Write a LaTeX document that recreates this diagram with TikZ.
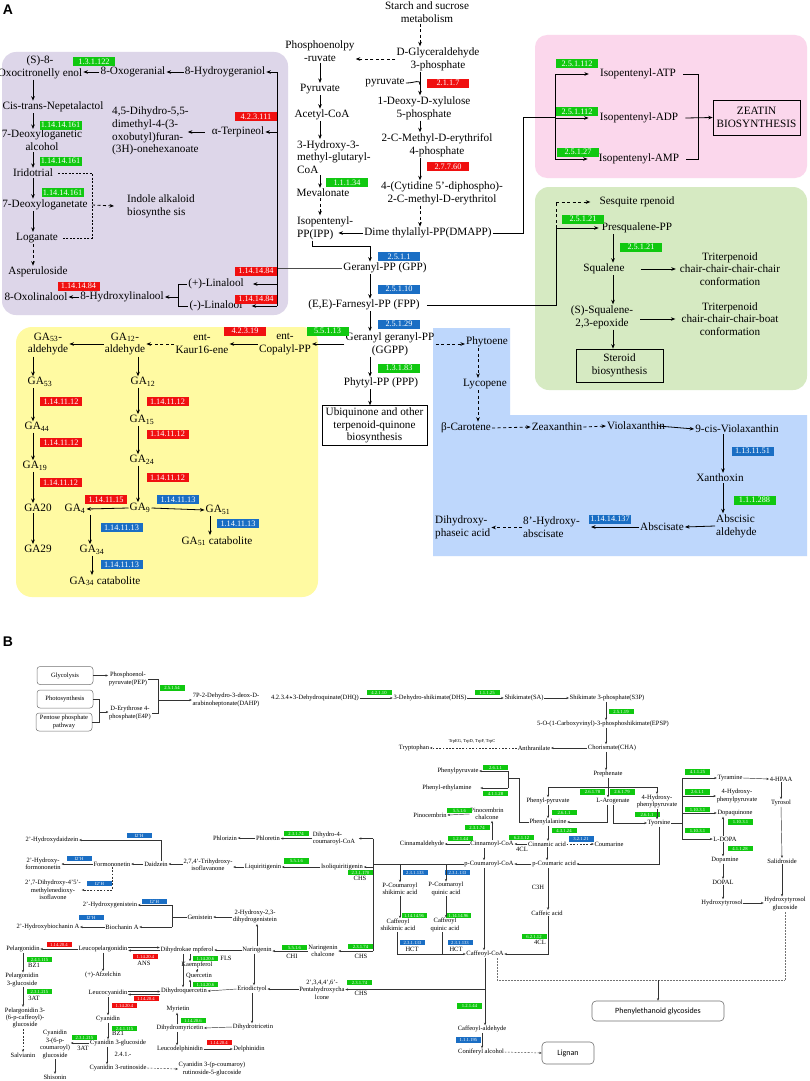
\documentclass[tikz,border=0pt]{standalone}
\usepackage{fontspec}
\setmainfont{Liberation Serif}
\newfontfamily\labfont{Liberation Sans}
\newfontfamily\boxfont{Carlito}
\usetikzlibrary{arrows.meta,calc}
\definecolor{ecred}{RGB}{240,16,16}
\definecolor{ecgreen}{RGB}{16,200,16}
\definecolor{ecblue}{RGB}{26,110,196}
\definecolor{bgpurple}{RGB}{221,214,233}
\definecolor{bgpink}{RGB}{251,215,236}
\definecolor{bggreen}{RGB}{214,234,194}
\definecolor{bgyellow}{RGB}{255,250,162}
\definecolor{bgblue}{RGB}{190,215,252}

\begin{document}
\begin{tikzpicture}[x=1pt,y=-1pt,
  mtxt/.style={font=\fontsize{11.2}{12.8}\selectfont, align=center, inner sep=1pt},
  mtxtl/.style={mtxt, align=left},
  btxt/.style={font=\fontsize{6.5}{7.4}\selectfont, align=center, inner sep=0.6pt},
  btxtl/.style={btxt, align=left},
  ecA/.style={font=\fontsize{8.3}{8.5}\selectfont, text=white, minimum width=42pt, minimum height=9pt, inner sep=0pt},
  ecR/.style={ecA, fill=ecred},
  ecG/.style={ecA, fill=ecgreen},
  ecB/.style={ecA, fill=ecblue},
  esA/.style={font=\fontsize{4.7}{5}\selectfont, text=white, minimum width=25pt, minimum height=5.5pt, inner sep=0pt},
  esR/.style={esA, fill=ecred},
  esG/.style={esA, fill=ecgreen},
  esB/.style={esA, fill=ecblue},
  arr/.style={-{Stealth[length=4.5pt,width=3.6pt]}, line width=0.8pt},
  darr/.style={arr, dash pattern=on 3pt off 2.5pt},
  mline/.style={line width=0.8pt},
  barr/.style={-{Stealth[length=2.6pt,width=2.2pt]}, line width=0.45pt, black!80},
  dbarr/.style={barr, dash pattern=on 1.8pt off 1.5pt},
  bline/.style={line width=0.45pt, black!80},
  bbox/.style={btxt, draw=black!55, line width=0.5pt, rounded corners=3pt, fill=white, minimum width=56pt, minimum height=18pt},
  sbox/.style={font=\fontsize{8}{9}\boxfont, draw=black!55, line width=0.6pt, rounded corners=4pt, fill=white}]
\fill[white] (0,0) rectangle (809,1081);
\useasboundingbox (0,0) rectangle (809,1081);

% ---------------- A ----------------
\node[font=\fontsize{14}{14}\labfont\bfseries] (lblA) at (8,10) {A};
\fill[bgpurple, rounded corners=14pt] (2,52) rectangle (288,315);
\fill[bgpink, rounded corners=12pt] (535,35) rectangle (807,178);
\fill[bggreen, rounded corners=14pt] (535,187) rectangle (807,390);
\fill[bgyellow, rounded corners=16pt] (16,327) rectangle (318,597);
\fill[bgblue] (433,328) -- (510,328) -- (510,415) -- (807,415) -- (807,556) -- (433,556) -- cycle;

\coordinate (mx) at (420,0);
\coordinate (vx) at (320,0);
\coordinate (cx) at (370,0);

% MVA / MEP
\node[mtxt] (starch) at (427,12) {Starch and sucrose\\metabolism};
\node[mtxt] (gap) at (438,59) {D-Glyceraldehyde\\3-phosphate};
\node[mtxt] (pep) at (320,51) {Phosphoenolpy\\-ruvate};
\node[mtxt] (pyr) at (320,89) {Pyruvate};
\node[mtxt] (acoa) at (322,115) {Acetyl-CoA};
\node[mtxtl, anchor=west] (hmg) at (296,157) {3-Hydroxy-3-\\methyl-glutaryl-\\CoA};
\node[mtxt] (mva) at (323,193) {Mevalonate};
\node[mtxtl, anchor=west] (ipp) at (296,228) {Isopentenyl-\\PP(IPP)};
\node[mtxt] (pyr2) at (385,83) {pyruvate};
\node[mtxt] (dxp) at (424,108) {1-Deoxy-D-xylulose\\5-phosphate};
\node[mtxt] (mep) at (437,145) {2-C-Methyl-D-erythrifol\\4-phosphate};
\node[mtxt] (cdp) at (442,193) {4-(Cytidine 5’-diphospho)-\\2-C-methyl-D-erythritol};
\node[mtxt] (dmapp) at (428,233) {Dime thylallyl-PP(DMAPP)};
\node[mtxt] (gpp) at (385,268) {Geranyl-PP (GPP)};
\node[mtxt] (fpp) at (364,305) {(E,E)-Farnesyl-PP (FPP)};
\node[mtxt] (ggpp) at (390,344) {Geranyl geranyl-PP\\(GGPP)};
\node[mtxt] (phytyl) at (381,383) {Phytyl-PP (PPP)};
\node[mtxt, draw, line width=0.6pt, minimum width=105pt, minimum height=39pt, inner sep=2pt] (ubi) at (374.5,425.5) {Ubiquinone and other\\terpenoid-quinone\\biosynthesis};

\node[ecR] (e2217) at (448,83) {2.1.1.7};
\node[ecR] (e27760) at (448,166.5) {2.7.7.60};
\node[ecG] (e11134) at (347,182.5) {1.1.1.34};
\node[ecB] (e2511) at (399,256.5) {2.5.1.1};
\node[ecB] (e25110) at (399,289) {2.5.1.10};
\node[ecB] (e25129) at (399,324) {2.5.1.29};
\node[ecG] (e13183) at (399,368) {1.3.1.83};

\draw[darr] (starch.south -| mx) -- (gap.north -| mx);
\draw[darr] (gap.west) -- (gap.west -| pep.east);
\draw[arr] (pep.south -| vx) -- (pyr.north -| vx);
\draw[arr] (pyr.south -| vx) -- (acoa.north -| vx);
\draw[arr] (acoa.south -| vx) -- (hmg.north -| vx);
\draw[arr] (hmg.south -| vx) -- (mva.north -| vx);
\draw[darr] (mva.south -| vx) -- (ipp.north -| vx);
\draw[arr] (gap.south -| mx) -- (dxp.north -| mx);
\draw[mline] (pyr2.east) .. controls +(10,0) and +(0,-6) .. ($(gap.south -| mx)!0.55!(dxp.north -| mx)$);
\draw[arr] (dxp.south -| mx) -- (mep.north -| mx);
\draw[arr] (mep.south -| mx) -- (cdp.north -| mx);
\draw[darr] (cdp.south -| mx) -- (dmapp.north -| mx);
\draw[arr] (dmapp.west) -- ([xshift=-16pt]ipp.east |- dmapp.west);
\draw[arr] ([xshift=-13pt]ipp.south) -- ++(0,6) -| (gpp.north -| cx);
\draw[arr] (gpp.south -| cx) -- (fpp.north -| cx);
\draw[arr] (fpp.south -| cx) -- (ggpp.north -| cx);
\draw[arr] (ggpp.south -| cx) -- (phytyl.north -| cx);
\draw[arr] (phytyl.south -| cx) -- (ubi.north -| cx);

% zeatin
\node[mtxt] (iatp) at (638,74) {Isopentenyl-ATP};
\node[mtxt] (iadp) at (639,118) {Isopentenyl-ADP};
\node[mtxt] (iamp) at (639,159) {Isopentenyl-AMP};
\node[mtxt, draw, line width=0.6pt, minimum width=87pt, minimum height=35pt] (zeat) at (756.5,117.5) {ZEATIN\\BIOSYNTHESIS};
\node[ecG] (e251112a) at (577,64) {2.5.1.112};
\node[ecG] (e251112b) at (577,111.5) {2.5.1.112};
\node[ecG] (e25127) at (578,152) {2.5.1.27};
\coordinate (dmj) at (523,117);
\coordinate (zx) at (555,0);
\coordinate (zr) at (698,0);
\draw[mline] (dmapp.east) -| (dmj) -- (dmj -| zx);
\draw[mline] (zx |- iatp.west) -- (zx |- iamp.west);
\draw[arr] (zx |- iatp.west) -- ([xshift=-10pt]iatp.west);
\draw[arr] (zx |- iadp.west) -- ([xshift=-10pt]iadp.west);
\draw[arr] (zx |- iamp.west) -- ([xshift=-10pt]iamp.west);
\draw[mline] ([xshift=6pt]iatp.east) -- (iatp.east -| zr) -- (iamp.east -| zr) -- ([xshift=6pt]iamp.east);
\draw[arr] ([xshift=6pt]iadp.east) -- (zeat.west);

% triterpenoid
\node[mtxt] (sesq) at (637,202) {Sesquite rpenoid};
\node[mtxt] (presq) at (637,228) {Presqualene-PP};
\node[mtxt] (squal) at (604,269) {Squalene};
\node[mtxt] (tri1) at (730,269) {Triterpenoid\\chair-chair-chair-chair\\conformation};
\node[mtxt] (epox) at (602,317) {(S)-Squalene-\\2,3-epoxide};
\node[mtxt] (tri2) at (730,319) {Triterpenoid\\chair-chair-chair-boat\\conformation};
\node[mtxt, draw, line width=0.6pt, minimum width=87pt, minimum height=33pt] (ster) at (619.5,365.5) {Steroid\\biosynthesis};
\node[ecG] (e25121a) at (583,219) {2.5.1.21};
\node[ecG] (e25121b) at (641,247) {2.5.1.21};
\coordinate (fj) at (556,0);
\coordinate (sx) at (613,0);
\draw[mline] ([xshift=6pt]fpp.east) -- (fpp.east -| fj) -- (presq.west -| fj);
\draw[arr] (presq.west -| fj) -- ([xshift=-2pt]presq.west);
\draw[dash pattern=on 3pt off 2.5pt, mline] (presq.west -| fj) -- (sesq.west -| fj);
\draw[darr] (sesq.west -| fj) -- ([xshift=-8pt]sesq.west);
\draw[arr] (presq.south -| sx) -- (squal.north -| sx);
\draw[arr] ([xshift=15pt]squal.east) -- ([xshift=-3pt]tri1.west);
\draw[arr] (squal.south -| sx) -- (epox.north -| sx);
\draw[arr] ([xshift=6pt]epox.east |- tri2.west) -- ([xshift=-5pt]tri2.west);
\draw[arr] (epox.south -| sx) -- (ster.north -| sx);

% monoterpenoid / iridoid
\node[mtxt] (oxo) at (40,67) {(S)-8-\\Oxocitronelly enol};
\node[mtxt] (oxog) at (133,72) {8-Oxogeranial};
\node[mtxt] (hger) at (225,72) {8-Hydroygeraniol};
\node[mtxt] (nep) at (53,107) {Cis-trans-Nepetalactol};
\node[mtxt] (dla) at (42,140.5) {7-Deoxyloganetic\\alcohol};
\node[mtxt] (irid) at (33,173) {Iridotrial};
\node[mtxt] (dlt) at (45,205) {7-Deoxyloganetate};
\node[mtxtl, anchor=west] (indole) at (126,206) {Indole alkaloid\\biosynthe sis};
\node[mtxt] (logan) at (37,238) {Loganate};
\node[mtxt] (asper) at (38,272) {Asperuloside};
\node[mtxtl, anchor=west] (dhf) at (111,131) {4,5-Dihydro-5,5-\\dimethyl-4-(3-\\oxobutyl)furan-\\(3H)-onehexanoate};
\node[mtxt] (terp) at (238,132) {α-Terpineol};
\node[mtxt] (oxol) at (36,297) {8-Oxolinalool};
\node[mtxt] (hlin) at (122,297) {8-Hydroxylinalool};
\node[mtxt] (plin) at (216,284) {(+)-Linalool};
\node[mtxt] (mlin) at (216,306) {(-)-Linalool};
\node[ecG] (e131122) at (94,61.5) {1.3.1.122};
\node[ecR] (e423111) at (256,116.5) {4.2.3.111};
\node[ecG] (e1141416a) at (60.5,125) {1.14.14.161};
\node[ecG] (e1141416b) at (60.5,161) {1.14.14.161};
\node[ecG] (e1141416c) at (62.5,192.5) {1.14.14.161};
\node[ecR] (e1141484a) at (256,271) {1.14.14.84};
\node[ecR] (e1141484b) at (256,299) {1.14.14.84};
\node[ecR] (e1141484c) at (78.5,286) {1.14.14.84};
\coordinate (gl) at (277,0);
\coordinate (px) at (33,0);
\coordinate (dj) at (92,0);
\coordinate (lb) at (178,0);
\draw[line width=0.6pt, black!70] (gpp.west) -- (gpp.west -| gl);
\draw[mline] (gl |- hger.east) -- (gl |- mlin.east);
\draw[arr] (gl |- hger.east) -- (hger.east);
\draw[arr] (gl |- terp.east) -- (terp.east);
\draw[arr] (gl |- plin.east) -- ([xshift=8pt]plin.east);
\draw[arr] (gl |- mlin.east) -- ([xshift=8pt]mlin.east);
\draw[arr] (hger.west) -- (oxog.east);
\draw[arr] (oxog.west) -- (oxog.west -| oxo.east);
\draw[arr] (oxo.south -| px) -- (nep.north -| px);
\draw[arr] (nep.south -| px) -- (dla.north -| px);
\draw[arr] (dla.south -| px) -- (irid.north -| px);
\draw[arr] (irid.south -| px) -- (dlt.north -| px);
\draw[arr] (dlt.south -| px) -- (logan.north -| px);
\draw[darr] (logan.south -| px) -- (asper.north -| px);
\draw[line width=0.5pt, dash pattern=on 2pt off 1.5pt] ([xshift=4pt]irid.east) -- (irid.east -| dj) -- (logan.east -| dj) -- ([xshift=4pt]logan.east);
\draw[darr] (dlt.east -| dj) -- ([xshift=-12pt]indole.west);
\draw[arr] ([xshift=-6pt]terp.west) -- ([xshift=-12pt]dhf.east |- terp.west);
\draw[mline] (plin.west) -- (plin.west -| lb) -- (mlin.west -| lb) -- (mlin.west);
\draw[arr] (lb |- hlin.east) -- (hlin.east);
\draw[arr] (hlin.west) -- (oxol.east);

% gibberellin
\node[mtxt] (ga53a) at (48,344) {GA\textsubscript{53}-\\aldehyde};
\node[mtxt] (ga12a) at (125,344) {GA\textsubscript{12}-\\aldehyde};
\node[mtxt] (kaur) at (202,344) {ent-\\Kaur16-ene};
\node[mtxt] (copal) at (285,344) {ent-\\Copalyl-PP};
\node[mtxt] (ga53) at (40,382) {GA\textsubscript{53}};
\node[mtxt] (ga44) at (37,427) {GA\textsubscript{44}};
\node[mtxt] (ga19) at (35,466) {GA\textsubscript{19}};
\node[mtxt] (ga20) at (38,508) {GA20};
\node[mtxt] (ga29) at (38,549) {GA29};
\node[mtxt] (ga12) at (143,382) {GA\textsubscript{12}};
\node[mtxt] (ga15) at (142,420) {GA\textsubscript{15}};
\node[mtxt] (ga24) at (142,460) {GA\textsubscript{24}};
\node[mtxt] (ga9) at (140,508) {GA\textsubscript{9}};
\node[mtxt] (ga4) at (75,509) {GA\textsubscript{4}};
\node[mtxt] (ga51) at (218,510) {GA\textsubscript{51}};
\node[mtxt] (ga51c) at (217,541) {GA\textsubscript{51} catabolite};
\node[mtxt] (ga34) at (92,550) {GA\textsubscript{34}};
\node[mtxt] (ga34c) at (105,581) {GA\textsubscript{34} catabolite};
\node[ecR] (e42319) at (245,331) {4.2.3.19};
\node[ecG] (e55113) at (327.5,331) {5.5.1.13};
\node[ecR] (e1141112a) at (61,401.5) {1.14.11.12};
\node[ecR] (e1141112b) at (61,442.5) {1.14.11.12};
\node[ecR] (e1141112c) at (60.5,482.5) {1.14.11.12};
\node[ecR] (e1141112d) at (167.5,401.5) {1.14.11.12};
\node[ecR] (e1141112e) at (167.5,434) {1.14.11.12};
\node[ecR] (e1141112f) at (167.5,477.5) {1.14.11.12};
\node[ecR] (e1141115) at (106,499.5) {1.14.11.15};
\node[ecB] (e1141113a) at (178,499.5) {1.14.11.13};
\node[ecB] (e1141113b) at (238,523.5) {1.14.11.13};
\node[ecB] (e1141113c) at (121.5,527.5) {1.14.11.13};
\node[ecB] (e1141113d) at (121.5,564.5) {1.14.11.13};
\coordinate (gx1) at (33,0);
\coordinate (gx2) at (138,0);
\draw[arr] (ggpp.west) -- (ggpp.west -| copal.east);
\draw[arr] (copal.west) -- (kaur.east);
\draw[darr] (kaur.west) -- (ga12a.east);
\draw[arr] (ga12a.west) -- (ga53a.east);
\draw[arr] (ga53a.south -| gx1) -- (ga53.north -| gx1);
\draw[arr] (ga53.south -| gx1) -- (ga44.north -| gx1);
\draw[arr] (ga44.south -| gx1) -- (ga19.north -| gx1);
\draw[arr] (ga19.south -| gx1) -- (ga20.north -| gx1);
\draw[arr] (ga20.south -| gx1) -- (ga29.north -| gx1);
\draw[arr] (ga12a.south -| gx2) -- (ga12.north -| gx2);
\draw[arr] (ga12.south -| gx2) -- (ga15.north -| gx2);
\draw[arr] (ga15.south -| gx2) -- (ga24.north -| gx2);
\draw[arr] (ga24.south -| gx2) -- (ga9.north -| gx2);
\draw[arr] (ga9.west) -- (ga4.east);
\draw[arr] (ga9.east) -- (ga51.west);
\draw[arr] ([xshift=-8pt]ga51.south) -- ([xshift=-8pt]ga51.south |- ga51c.north);
\draw[arr] ([xshift=15pt]ga4.south) -- ([xshift=15pt]ga4.south |- ga34.north);
\draw[arr] (ga34.south) -- (ga34.south |- ga34c.north);

% carotenoid
\node[mtxt] (phyt) at (487,342) {Phytoene};
\node[mtxt] (lyco) at (485,384) {Lycopene};
\node[mtxt] (bcar) at (466,428) {β-Carotene};
\node[mtxt] (zeax) at (557,427) {Zeaxanthin};
\node[mtxt] (viol) at (636,426) {Violaxanthin};
\node[mtxt] (cviol) at (737,429) {9-cis-Violaxanthin};
\node[mtxt] (xanth) at (720,478) {Xanthoxin};
\node[mtxtl, anchor=west] (absald) at (715,526) {Abscisic\\aldehyde};
\node[mtxt] (absc) at (662,527) {Abscisate};
\node[mtxtl, anchor=west] (hab) at (522,527.5) {8’-Hydroxy-\\abscisate};
\node[mtxtl, anchor=west] (dpa) at (434,527.5) {Dihydroxy-\\phaseic acid};
\node[ecB] (e1131151) at (752.5,451) {1.13.11.51};
\node[ecG] (e111288) at (754.5,500) {1.1.1.288};
\node[ecB] (e11414137) at (610,519) {1.14.14.137};
\coordinate (cx2) at (478,0);
\coordinate (ax) at (723,0);
\draw[darr] (ggpp.east) -- (ggpp.east -| phyt.west);
\draw[darr] (phyt.south -| cx2) -- (lyco.north -| cx2);
\draw[darr] (lyco.south -| cx2) -- (bcar.north -| cx2);
\draw[darr] (bcar.east) -- (zeax.west);
\draw[darr] (zeax.east) -- (viol.west);
\draw[arr] ([xshift=-8pt]viol.east) -- (cviol.west);
\draw[arr] (cviol.south -| ax) -- (xanth.north -| ax);
\draw[arr] (xanth.south -| ax) -- (absald.north -| ax);
\draw[arr] (absald.west) -- (absc.east);
\draw[arr] (absc.west) -- ([xshift=10pt]hab.east |- absc.west);
\draw[darr] (hab.west) -- (dpa.east |- hab.west);

% ---------------- B ----------------
\node[font=\fontsize{14}{14}\labfont\bfseries] (lblB) at (8,642) {B};
\node[bbox] (glyc) at (65,675.5) {Glycolysis};
\node[bbox] (photo) at (65,699) {Photosynthesis};
\node[bbox] (pent) at (64,722) {Pentose phosphate\\pathway};
\node[btxt] (pepb) at (128,679) {Phosphoenol-\\pyruvate(PEP)};
\node[btxt] (e4p) at (130,713) {D-Erythrose 4-\\phosphate(E4P)};
\node[btxt] (dahp) at (226,700) {7P-2-Dehydro-3-deox-D-\\arabinoheptonate(DAHP)};
\node[btxt] (t4234) at (280,697) {4.2.3.4};
\node[btxt] (dhq) at (326,698) {3-Dehydroquinate(DHQ)};
\node[btxt] (dhs) at (430,698) {3-Dehydro-shikimate(DHS)};
\node[btxt] (sa) at (524,698) {Shikimate(SA)};
\node[btxt] (s3p) at (607,698) {Shikimate 3-phosphate(S3P)};
\node[btxt] (epsp) at (603,724) {5-O-(1-Carboxyvinyl)-3-phosphoshikimate(EPSP)};
\node[btxt] (cha) at (612,748) {Chorismate(CHA)};
\node[btxt] (anth) at (534,748) {Anthranilate};
\node[btxt] (trp) at (414,748) {Tryptophan};
\node[btxt, font=\fontsize{4.5}{5}\selectfont] (trpt) at (472,741) {TrpEG, TrpD, TrpF, TrpC};
\node[btxt] (preph) at (608,774) {Prephenate};
\node[btxt] (phpyr) at (548,801) {Phenyl-pyruvate};
\node[btxt] (aro) at (613,801) {L-Arogenate};
\node[btxt] (hpp) at (657,801.5) {4-Hydroxy-\\phenylpyruvate};
\node[btxt] (phe) at (548,822) {Phenylalanine};
\node[btxt] (tyr) at (659,823) {Tyorsine};
\node[btxt] (cin) at (547,844) {Cinnamic acid};
\node[btxt] (coum) at (609,844) {Coumarine};
\node[btxt] (pca) at (554,864) {p-Coumaric acid};
\node[btxt] (tyra) at (730,778) {Tyramine};
\node[btxt] (hpaa) at (781,779) {4-HPAA};
\node[btxt] (hpp2) at (737,796) {4-Hydroxy-\\phenylpyruvate};
\node[btxt] (dopaq) at (735,813) {Dopaquinone};
\node[btxt] (ldopa) at (725,839) {L-DOPA};
\node[btxt] (dopam) at (725,860) {Dopamine};
\node[btxt] (dopal) at (723,882) {DOPAL};
\node[btxt] (htyr) at (722,903) {Hydroxytyrosol};
\node[btxt] (tyrol) at (781,803) {Tyrosol};
\node[btxt] (salid) at (782,861) {Salidroside};
\node[btxt] (htg) at (785,904) {Hydroxytyrosol\\glucoside};
\node[sbox, minimum width=132pt, minimum height=20pt] (peg) at (658,1011) {Phenylethanoid glycosides};
\node[sbox, minimum width=52pt, minimum height=22pt] (lign) at (568,1053) {Lignan};
\node[btxt] (caffa) at (547,913) {Caffeic acid};
\node[btxt] (c3h) at (538,887) {C3H};
\node[btxt] (caffcoa) at (485,954) {Caffeoyl-CoA};
\node[btxt] (caffald) at (482,1029) {Caffeoyl-aldehyde};
\node[btxt] (conif) at (481,1052) {Coniferyl alcohol};
\node[btxt] (cl4b) at (540,942) {4CL};
\node[btxt] (phpyr2) at (458,771) {Phenylpyruvate};
\node[btxt] (phea) at (447,788) {Phenyl-ethylamine};
\node[btxt] (pino) at (430,815) {Pinocembrin};
\node[btxt] (pinoc) at (487,814) {Pinocembrin\\chalcone};
\node[btxt] (cinc) at (492,844) {Cinnamoyl-CoA};
\node[btxt] (cinald) at (422,844) {Cinnamaldehyde};
\node[btxt] (cl4a) at (522,849) {4CL};
\node[btxt] (pcoa) at (489,864) {p-Coumaroyl-CoA};
\node[btxt] (pcs) at (400,889) {P-Coumaroyl\\shikimic acid};
\node[btxt] (pcq) at (446,889) {P-Coumaroyl\\quinic acid};
\node[btxt] (cafs) at (398,925) {Caffeoyl\\shikimic acid};
\node[btxt] (cafq) at (445,925) {Caffeoyl\\quinic acid};
\node[btxt] (hct1) at (412,949) {HCT};
\node[btxt] (hct2) at (456,949) {HCT};
\node[btxtl, anchor=west] (dhcoa) at (312,838.5) {Dihydro-4-\\coumaroyl-CoA};
\node[btxt] (phlor) at (268,838) {Phloretin};
\node[btxt] (phlz) at (225,838) {Phlorizin};
\node[btxt] (isoliq) at (342,867) {Isoliquiritigenin};
\node[btxt] (chs1) at (360,878) {CHS};
\node[btxt] (liq) at (263,867) {Liquiritigenin};
\node[btxt] (thi) at (208,865) {2,7,4’-Trihydroxy-\\isoflavanone};
\node[btxt] (daid) at (156,864) {Daidzein};
\node[btxt] (formo) at (112,864) {Formononetin};
\node[btxt] (hform) at (43,864) {2’-Hydroxy-\\formononetin};
\node[btxt] (hdaid) at (52,840) {2’-Hydroxydaidzein};
\node[btxt] (dmi) at (53,890) {2’,7-Dihydroxy-4’5’-\\methylenedioxy-\\isoflavone};
\node[btxt] (hgen) at (110,905) {2’-Hydroxygenistein};
\node[btxt] (gen) at (200,917) {Genistein};
\node[btxt] (hdg) at (255,916.5) {2-Hydroxy-2,3-\\dihydrogenistein};
\node[btxt] (hbio) at (48,927) {2’-Hydroxybiochanin A};
\node[btxt] (bio) at (122,927) {Biochanin A};
\node[btxt] (nar) at (257,950) {Naringenin};
\node[btxt] (narc) at (323,951) {Naringenin\\chalcone};
\node[btxt] (chi) at (292,956) {CHI};
\node[btxt] (chs2) at (361,956) {CHS};
\node[btxt] (dhk) at (187,950) {Dihydrokae mpferol};
\node[btxt] (kaem) at (197,965) {Kaempferol};
\node[btxt] (fls) at (226,958) {FLS};
\node[btxt] (quer) at (199,976) {Quercetin};
\node[btxt] (dhq2) at (184,991) {Dihydroquercetin};
\node[btxt] (erio) at (252,989) {Eriodictyol};
\node[btxt] (phc) at (322,989.5) {2’,3,4,4’,6’-\\Pentahydroxycha\\lcone};
\node[btxt] (chs3) at (361,993) {CHS};
\node[btxt] (lpel) at (103,949) {Leucopelargonidin};
\node[btxt] (ans) at (144,963) {ANS};
\node[btxt] (pel) at (23,949) {Pelargonidin};
\node[btxt] (afz) at (103,975) {(+)-Afzelchin};
\node[btxt] (bz1a) at (34,965) {BZ1};
\node[btxt] (pel3g) at (22,980) {Pelargonidin\\3-glucoside};
\node[btxt] (at3a) at (34,998) {3AT};
\node[btxt] (pel3c) at (25,1018) {Pelargonidin 3-\\(6-p-caffeoyl)-\\glucoside};
\node[btxt] (salv) at (23,1055) {Salvianin};
\node[btxt] (lcy) at (108,993) {Leucocyanidin};
\node[btxt] (cya) at (108,1019) {Cyanidin};
\node[btxt] (bz1b) at (118,1033) {BZ1};
\node[btxt] (cy3g) at (118,1043) {Cyanidin 3-glucoside};
\node[btxt] (at3b) at (83,1048) {3AT};
\node[btxt] (cy3c) at (55,1044.5) {Cyanidin\\3-(6-p-\\coumaroyl)\\glucoside};
\node[btxt] (shis) at (55,1077) {Shisonin};
\node[btxt] (t241) at (123,1054) {2.4.1.-};
\node[btxt] (cy3r) at (118,1068) {Cyanidin 3-rutinoside};
\node[btxt] (cyrg) at (212,1069) {Cyanidin 3-(p-coumaroy)\\rutinoside-5-glucoside};
\node[btxt] (myr) at (178,1009) {Myrietin};
\node[btxt] (dhm) at (180,1028) {Dihydromyricetin};
\node[btxt] (dht) at (253,1027) {Dihydrotricetin};
\node[btxt] (ldel) at (180,1049) {Leucodelphinidin};
\node[btxt] (delph) at (249,1049) {Delphinidin};

\node[esG] (s25154) at (172,688) {2.5.1.54};
\node[esG] (s42110) at (379,692.5) {4.2.1.10};
\node[esG] (s11125) at (487,692.5) {1.1.1.25};
\node[esG] (s25119) at (621,711.5) {2.5.1.19};
\node[esG] (s26178) at (592.5,792) {2.6.1.78};
\node[esG] (s26179) at (622,792) {2.6.1.79};
\node[esG] (s2611a) at (564,812.5) {2.6.1.1};
\node[esG] (s43124) at (564,830.5) {4.3.1.24};
\node[esB] (s32121) at (581,839) {3.2.1.21};
\node[esG] (s2611b) at (647,814.5) {2.6.1.1};
\node[esG] (s41125) at (697.5,772) {4.1.1.25};
\node[esG] (s2611c) at (697.5,792) {2.6.1.1};
\node[esG] (s11031a) at (697.5,809.5) {1.10.3.1};
\node[esG] (s11031b) at (697.5,830.5) {1.10.3.1};
\node[esG] (s11031c) at (740.5,822) {1.10.3.1};
\node[esG] (s41128a) at (740,848.5) {4.1.1.28};
\node[esG] (s2611d) at (495.5,767.5) {2.6.1.1};
\node[esG] (s41128b) at (495.5,793.5) {4.1.1.28};
\node[esG] (s5516a) at (459.5,810.5) {5.5.1.6};
\node[esG] (s23174a) at (477,827.5) {2.3.1.74};
\node[esG] (s12144a) at (460.5,838.5) {1.2.1.44};
\node[esG] (s62112a) at (521.5,837.5) {6.2.1.12};
\node[esB] (s231133a) at (415,872.5) {2.3.1.133};
\node[esB] (s231133b) at (457.5,872.5) {2.3.1.133};
\node[esG] (s1141496a) at (414,915.5) {1.14.14.96};
\node[esG] (s1141496b) at (458.5,915.5) {1.14.14.96};
\node[esB] (s231133c) at (412.5,942.5) {2.3.1.133};
\node[esB] (s231133d) at (460,942.5) {2.3.1.133};
\node[esG] (s62112b) at (534,936.5) {6.2.1.12};
\node[esG] (s12144b) at (469.5,1006) {1.2.1.44};
\node[esB] (s111195) at (468.5,1040) {1.1.1.195};
\node[esG] (s23174b) at (296,833.5) {2.3.1.74};
\node[esG] (s5516b) at (296.5,861) {5.5.1.6};
\node[esG] (s231170) at (360.5,872.5) {2.3.1.170};
\node[esB] (si2ha) at (139,835.5) {I2’H};
\node[esB] (si2hb) at (79,858.5) {I2’H};
\node[esB] (si2hc) at (99.5,883.5) {I2’H};
\node[esB] (si2hd) at (154.5,901.5) {I2’H};
\node[esB] (si2he) at (91,917.5) {I2’H};
\node[esG] (s5516c) at (294.5,947.5) {5.5.1.6};
\node[esG] (s23174c) at (360.5,946.5) {2.3.1.74};
\node[esG] (s23174d) at (359.5,982.5) {2.3.1.74};
\node[esG] (s114206a) at (205.5,958.5) {1.14.20.6};
\node[esG] (s114206b) at (205.5,984.5) {1.14.20.6};
\node[esG] (s114206c) at (193,1020.5) {1.14.20.6};
\node[esR] (s114204a) at (59,944.5) {1.14.20.4};
\node[esR] (s114204b) at (145.5,956.5) {1.14.20.4};
\node[esR] (s114204c) at (146,998.5) {1.14.20.4};
\node[esR] (s114204d) at (124.5,1005.5) {1.14.20.4};
\node[esR] (s114204e) at (219,1042.5) {1.14.20.4};
\node[esG] (s241115a) at (39.5,959.5) {2.4.1.115};
\node[esG] (s231215a) at (39.5,991.5) {2.3.1.215};
\node[esG] (s241115b) at (124.5,1028.5) {2.4.1.115};
\node[esG] (s231215b) at (84.5,1037.5) {2.3.1.215};

% shikimate
\coordinate (bj) at (99,712);
\coordinate (pj) at (158,0);
\coordinate (sx2) at (606,0);
\draw[barr] (glyc.east) -- (glyc.east -| pepb.west);
\draw[bline] (photo.east) -| (bj);
\draw[bline] (pent.east) -| (bj);
\draw[barr] (bj) -- (bj -| e4p.west);
\draw[bline] (pepb.east) -| (pj |- e4p.east) -- (e4p.east);
\draw[barr] (pj |- dahp.west) -- (dahp.west);
\draw[barr] (t4234.east) -- (dhq.west);
\draw[barr] (dhq.east) -- (dhs.west);
\draw[barr] (dhs.east) -- (sa.west);
\draw[barr] (sa.east) -- (s3p.west);
\draw[barr] (s3p.south -| sx2) -- (epsp.north -| sx2);
\draw[barr] (epsp.south -| sx2) -- (cha.north -| sx2);
\draw[barr] (cha.west) -- (anth.east);
\draw[dbarr] (anth.west) -- (trp.east);
\draw[barr] (cha.south -| sx2) -- (preph.north -| sx2);

% phenylalanine / tyrosine
\coordinate (prj) at (608,787);
\coordinate (tj) at (682,0);
\draw[bline] (preph.south) -- (prj);
\draw[bline] (phpyr.north |- prj) -- (hpp.north |- prj);
\draw[barr] (phpyr.north |- prj) -- (phpyr.north);
\draw[barr] (prj) -- (prj |- aro.north);
\draw[barr] (hpp.north |- prj) -- (hpp.north);
\draw[barr] (phpyr.south) -- (phe.north);
\draw[barr] ([xshift=-6pt]aro.south) |- (phe.east);
\draw[barr] (aro.south) |- (tyr.west);
\draw[barr] (hpp.south) -- (hpp.south |- tyr.north);
\draw[barr] (phe.south) -- (phe.south |- cin.north);
\draw[dbarr] (cin.east) -- (coum.west);
\draw[barr] (cin.south) -- (cin.south |- pca.north);
\draw[barr] (tyr.south) |- (pca.east);
\draw[bline] (tyr.east) -- (tyr.east -| tj);
\draw[bline] (tj |- tyra.west) -- (tj |- ldopa.west);
\draw[barr] (tj |- tyra.west) -- (tyra.west);
\draw[barr] (tj |- hpp2.west) -- (hpp2.west);
\draw[barr] (tj |- dopaq.west) -- (dopaq.west);
\draw[barr] (tj |- ldopa.west) -- (ldopa.west);
\draw[barr] ([xshift=-2pt]ldopa.north) -- ([xshift=-2pt]ldopa.north |- dopaq.south);
\draw[barr] ([xshift=-2pt]ldopa.south) -- ([xshift=-2pt]ldopa.south |- dopam.north);
\draw[barr] ([xshift=-2pt]dopam.south) -- ([xshift=-2pt]dopam.south |- dopal.north);
\draw[barr] (dopal.south) -- (dopal.south |- htyr.north);
\draw[barr] (htyr.east) -- (htyr.east -| htg.west);
\draw[barr] (tyra.east) -- (hpaa.west);
\draw[barr] (hpaa.south) -- (tyrol.north);
\draw[barr] (tyrol.south) -- (salid.north);
\draw[barr] (salid.south) -- (salid.south |- htg.north);
\coordinate (dl) at (0,980);
\draw[black!55, line width=0.5pt, densely dotted] ([xshift=12pt]caffcoa.south) |- (htg.south |- dl) -- (htg.south);
\draw[barr] (peg.north |- dl) -- (peg.north);

% phenylpropanoid
\coordinate (cx3) at (548,0);
\coordinate (fk) at (519,778);
\coordinate (fj2) at (508,0);
\coordinate (lx) at (373,0);
\draw[barr] (pca.south -| cx3) -- (caffa.north -| cx3);
\draw[barr] (caffa.south -| cx3) |- (caffcoa.east);
\draw[barr] (pca.west) -- (pcoa.east);
\draw[barr] (cin.west) -- (cinc.east);
\draw[barr] (cinc.west) -- (cinald.east);
\draw[barr] (cinc.north) -- (cinc.north |- pinoc.south);
\draw[barr] (pinoc.west) -- (pino.east);
\draw[barr] ([xshift=-8pt]cinc.south) -- ([xshift=-8pt]cinc.south |- pcoa.north);
\draw[bline] (phe.west) -| (fk) -- (fk -| fj2);
\draw[bline] (fj2 |- phpyr2.east) -- (fj2 |- phea.east);
\draw[barr] (fj2 |- phpyr2.east) -- (phpyr2.east);
\draw[barr] (fj2 |- phea.east) -- ([xshift=8pt]phea.east);
\draw[bline] (pcoa.west) -- (pcoa.west -| lx);
\draw[bline] (lx |- dhcoa.east) -- (lx |- narc.east);
\draw[barr] (lx |- dhcoa.east) -- ([xshift=3pt]dhcoa.east);
\draw[barr] (lx |- isoliq.east) -- (isoliq.east);
\draw[barr] (lx |- narc.east) -- (narc.east);
\draw[barr] (pcs.north |- pcoa.west) -- (pcs.north);
\draw[barr] (pcq.north |- pcoa.west) -- (pcq.north);
\draw[barr] (pcs.south) -- (pcs.south |- cafs.north);
\draw[barr] (pcq.south) -- (pcq.south |- cafq.north);
\draw[barr] ([xshift=-1pt]cafs.south) |- (caffcoa.west);
\draw[bline] ([xshift=-3pt]cafq.south) -- ([xshift=-3pt]cafq.south |- caffcoa.west);
\draw[barr] ([xshift=-5pt]pcoa.south) -- ([xshift=-5pt]pcoa.south |- caffcoa.north);
\draw[barr] (caffcoa.south) -- (caffcoa.south |- caffald.north);
\draw[barr] (caffcoa.south |- phc.east) -- (phc.east);
\draw[barr] (caffald.south) -- (caffald.south |- conif.north);
\draw[dbarr] (conif.east) -- (lign.west);

% flavonoids / isoflavonoids
\coordinate (gb) at (172,0);
\coordinate (kx) at (190,0);
\draw[barr] (dhcoa.west) -- (dhcoa.west -| phlor.east);
\draw[barr] (phlor.west) -- (phlz.east);
\draw[barr] (isoliq.west) -- (liq.east);
\draw[barr] (liq.west) -- (liq.west -| thi.east);
\draw[barr] (thi.west |- daid.east) -- (daid.east);
\draw[barr] (daid.west) -- (formo.east);
\draw[barr] (formo.west) -- (formo.west -| hform.east);
\draw[barr] ([xshift=5pt]daid.north) |- (hdaid.east);
\draw[dbarr] (formo.south) |- (dmi.east);
\draw[bline] (gen.west) -- (gen.west -| gb);
\draw[bline] (gb |- hgen.east) -- (gb |- bio.east);
\draw[barr] (gb |- hgen.east) -- (hgen.east);
\draw[barr] (gb |- bio.east) -- (bio.east);
\draw[barr] (bio.west) -- (hbio.east);
\draw[barr] (hdg.west |- gen.east) -- (gen.east);
\draw[barr] (nar.north) -- (nar.north |- hdg.south);
\draw[barr] (narc.west) -- (narc.west -| nar.east);
\draw[barr] (nar.west) -- (dhk.east);
\draw[barr] ([xshift=-3pt]nar.south) -- ([xshift=-3pt]nar.south |- erio.north);
\draw[barr] (erio.west) -- (dhq2.east);
\draw[barr] (phc.west |- erio.east) -- (erio.east);
\draw[barr] ([xshift=-4pt]dhk.south) -- ([xshift=-4pt]dhk.south |- dhq2.north);
\draw[barr] (kx |- dhk.south) -- (kx |- kaem.north);
\draw[barr] (kaem.south) -- (kaem.south |- quer.north);
\draw[barr] (kx |- dhq2.north) -- (kx |- quer.south);
\draw[barr] ([yshift=1.5pt]lpel.east) -- ([yshift=1.5pt]lpel.east -| dhk.west);
\draw[barr] ([yshift=-1.5pt]lpel.east -| dhk.west) -- ([yshift=-1.5pt]lpel.east);
\draw[barr] ([yshift=1.5pt]lcy.east) -- ([yshift=1.5pt]lcy.east -| dhq2.west);
\draw[barr] ([yshift=-1.5pt]lcy.east -| dhq2.west) -- ([yshift=-1.5pt]lcy.east);
\draw[barr] (lpel.west) -- (pel.east);
\draw[barr] (lpel.south) -- (afz.north);
\draw[barr] (pel.south) -- (pel.south |- pel3g.north);
\draw[barr] (pel3g.south -| pel.south) -- (pel3c.north -| pel.south);
\draw[dbarr] (pel3c.south -| pel.south) -- (salv.north -| pel.south);
\draw[barr] (lcy.south) -- (cya.north);
\draw[barr] (cya.south) -- (cya.south |- cy3g.north);
\draw[barr] (cy3g.west) -- (cy3g.west -| cy3c.east);
\draw[barr] (cy3c.south) -- (shis.north);
\draw[barr] ([xshift=-11pt]cy3g.south) -- ([xshift=-11pt]cy3g.south |- cy3r.north);
\draw[dbarr] (cy3r.east) -- (cyrg.west);
\draw[barr] (erio.south) -- (erio.south |- dht.north);
\draw[barr] (dht.west) -- (dhm.east);
\draw[barr] ([xshift=-3pt]dhm.north) -- ([xshift=-3pt]dhm.north |- myr.south);
\draw[barr] ([xshift=-3pt]dhm.south) -- ([xshift=-3pt]dhm.south |- ldel.north);
\draw[barr] (ldel.east) -- (delph.west);
\end{tikzpicture}
\end{document}
